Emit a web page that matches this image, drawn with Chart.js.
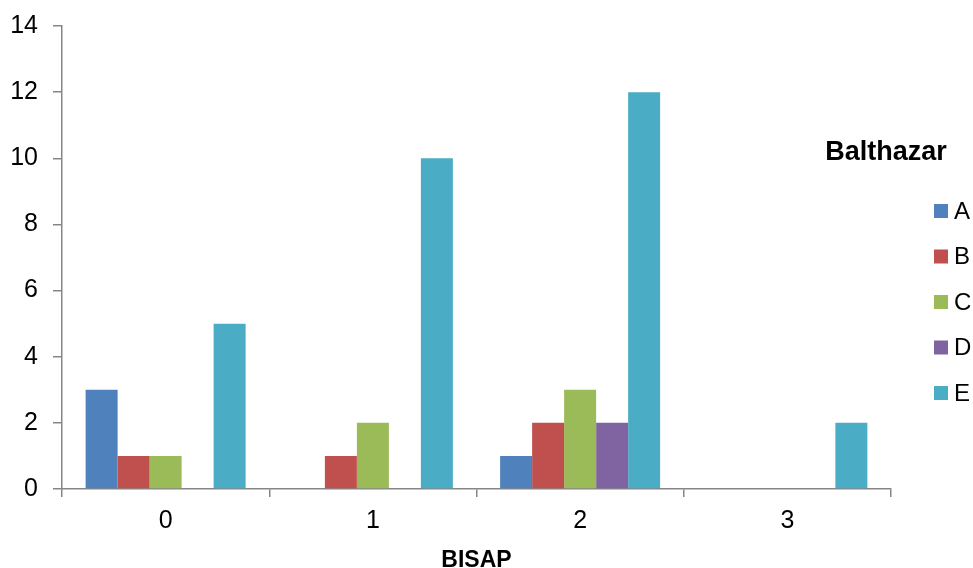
<!DOCTYPE html>
<html>
<head>
<meta charset="utf-8">
<script src="https://cdn.jsdelivr.net/npm/chart.js@4/dist/chart.umd.min.js"></script>
<style>
  html, body { margin: 0; padding: 0; background: #fff; }
  #wrap { width: 973px; height: 568px; }
</style>
</head>
<body>
<div id="wrap"><canvas id="c" width="973" height="568"></canvas></div>
<script>
// BISAP score categories and Balthazar grade counts
const categories = ['0', '1', '2', '3'];
const gradeA = [3, 0, 1, 0];
const gradeB = [1, 1, 2, 0];
const gradeC = [1, 2, 3, 0];
const gradeD = [0, 0, 2, 0];
const gradeE = [5, 10, 12, 2];
const yTicks = [0, 2, 4, 6, 8, 10, 12, 14];

const FONT = '"Liberation Sans", Arial, sans-serif';
const AXIS = '#868686';

// Legend drawn at the right of the plot, with its own title
const sideLegend = {
  id: 'sideLegend',
  afterDraw(chart) {
    const ctx = chart.ctx;
    ctx.save();
    ctx.fillStyle = '#000';
    ctx.font = 'bold 27px ' + FONT;
    ctx.textAlign = 'center';
    ctx.textBaseline = 'alphabetic';
    ctx.fillText('Balthazar', 886, 160);
    ctx.font = '24px ' + FONT;
    ctx.textAlign = 'left';
    ctx.textBaseline = 'middle';
    chart.data.datasets.forEach((ds, i) => {
      const cy = 211 + i * 45.5;
      ctx.fillStyle = ds.backgroundColor;
      ctx.fillRect(934, cy - 7, 14, 14);
      ctx.fillStyle = '#000';
      ctx.fillText(ds.label, 954, cy + 1);
    });
    ctx.restore();
  }
};

new Chart(document.getElementById('c'), {
  type: 'bar',
  data: {
    labels: categories,
    datasets: [
      { label: 'A', data: gradeA, backgroundColor: '#4F81BD' },
      { label: 'B', data: gradeB, backgroundColor: '#C0504D' },
      { label: 'C', data: gradeC, backgroundColor: '#9BBB59' },
      { label: 'D', data: gradeD, backgroundColor: '#8064A2' },
      { label: 'E', data: gradeE, backgroundColor: '#4BACC6' }
    ]
  },
  options: {
    responsive: false,
    animation: false,
    devicePixelRatio: 1,
    layout: { padding: { left: 0, right: 82, top: 26, bottom: 0 } },
    datasets: { bar: { categoryPercentage: 0.772, barPercentage: 1.0 } },
    plugins: {
      legend: { display: false },
      tooltip: { enabled: false }
    },
    scales: {
      x: {
        offset: true,
        grid: { offset: true, drawOnChartArea: false, drawTicks: true, tickLength: 8, color: AXIS, lineWidth: 1.5 },
        border: { color: AXIS, width: 1.5 },
        ticks: { color: '#000', font: { family: FONT, size: 25 }, padding: 9 },
        title: { display: true, text: 'BISAP', color: '#000', font: { family: FONT, size: 23, weight: 'bold', lineHeight: 0.61 }, padding: { top: 0, bottom: 0 } },
        afterFit(scale) { scale.height = 79; }
      },
      y: {
        min: 0,
        max: 14,
        afterBuildTicks(scale) { scale.ticks = yTicks.map(v => ({ value: v })); },
        grid: { drawOnChartArea: false, drawTicks: true, tickLength: 9, color: AXIS, lineWidth: 1.5 },
        border: { color: AXIS, width: 1.5 },
        ticks: { color: '#000', font: { family: FONT, size: 25, lineHeight: 0.8 }, padding: 15 },
        afterFit(scale) { scale.width = 62; scale.paddingTop = 0; scale.paddingBottom = 0; }
      }
    }
  },
  plugins: [sideLegend]
});
</script>
</body>
</html>
